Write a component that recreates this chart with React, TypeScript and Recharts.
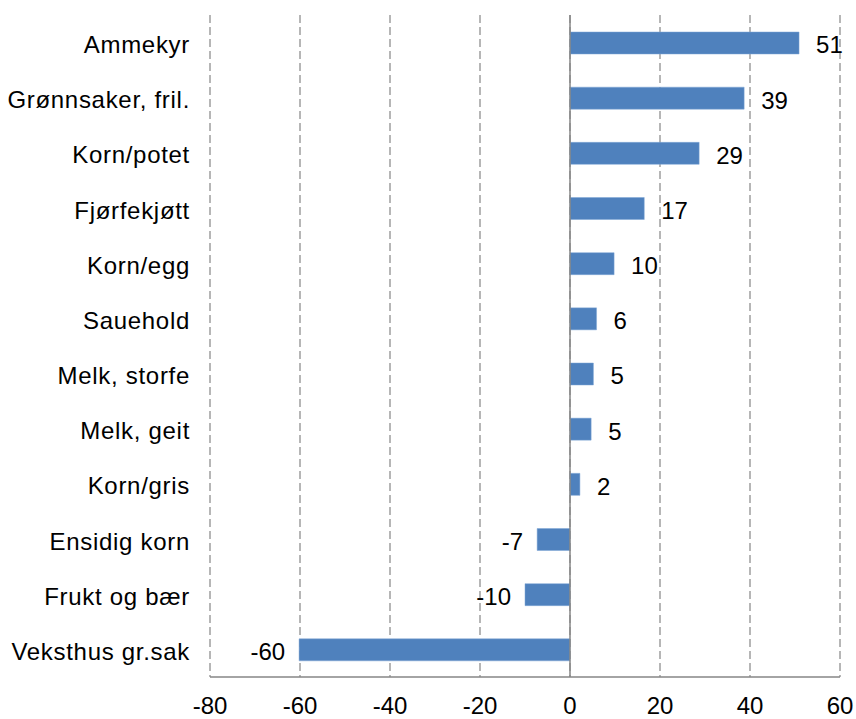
import { BarChart, Bar, XAxis, YAxis, CartesianGrid, ReferenceLine, LabelList } from "recharts";

const categories = [
  "Ammekyr", "Grønnsaker, fril.", "Korn/potet", "Fjørfekjøtt", "Korn/egg", "Sauehold",
  "Melk, storfe", "Melk, geit", "Korn/gris", "Ensidig korn", "Frukt og bær", "Veksthus gr.sak",
];
const values = [50.9, 38.7, 28.7, 16.5, 9.8, 5.9, 5.2, 4.7, 2.2, -7.3, -10.0, -60.2];
const xTicks = [-80, -60, -40, -20, 0, 20, 40, 60];

const data = categories.map((name, i) => ({ name, value: values[i] }));

const FONT = "'Liberation Sans', Arial, sans-serif";

const ValueLabel = (props: any) => {
  const { x, y, width, height, value } = props;
  const neg = value < 0;
  const end = neg ? Math.min(x, x + width) : Math.max(x, x + width);
  return (
    <text
      x={neg ? end - 14 : end + 17}
      y={y + height / 2 + 4}
      textAnchor={neg ? "end" : "start"}
      dominantBaseline="middle"
      fontSize={24}
      fontFamily={FONT}
      fill="#000"
    >
      {Math.round(value)}
    </text>
  );
};

export default function App() {
  return (
    <div style={{ position: "absolute", left: 0, top: 0, background: "#fff" }}>
      <BarChart
        width={856}
        height={719}
        data={data}
        layout="vertical"
        margin={{ top: 15, right: 16, bottom: 0, left: 0 }}
        barSize={22}
      >
        <CartesianGrid horizontal={false} stroke="#868686" strokeWidth={1.2} strokeDasharray="8 4" />
        <XAxis
          type="number"
          domain={[-80, 60]}
          ticks={xTicks}
          interval={0}
          height={42}
          axisLine={{ stroke: "#868686", strokeWidth: 1.5 }}
          tickLine={false}
          tickSize={0}
          tickMargin={20}
          tick={{ fill: "#000", fontSize: 24, fontFamily: FONT }}
        />
        <YAxis
          type="category"
          dataKey="name"
          width={210}
          axisLine={false}
          tickLine={false}
          tickSize={0}
          tickMargin={20}
          interval={0}
          tick={{ fill: "#000", fontSize: 24, fontFamily: FONT, dy: 2, letterSpacing: 0.7 }}
        />
        <ReferenceLine x={0} stroke="#868686" strokeWidth={1.5} />
        <Bar dataKey="value" fill="#4f81bd" stroke="#7fa6d6" strokeWidth={0.5} isAnimationActive={false}>
          <LabelList dataKey="value" content={ValueLabel} />
        </Bar>
      </BarChart>
    </div>
  );
}
